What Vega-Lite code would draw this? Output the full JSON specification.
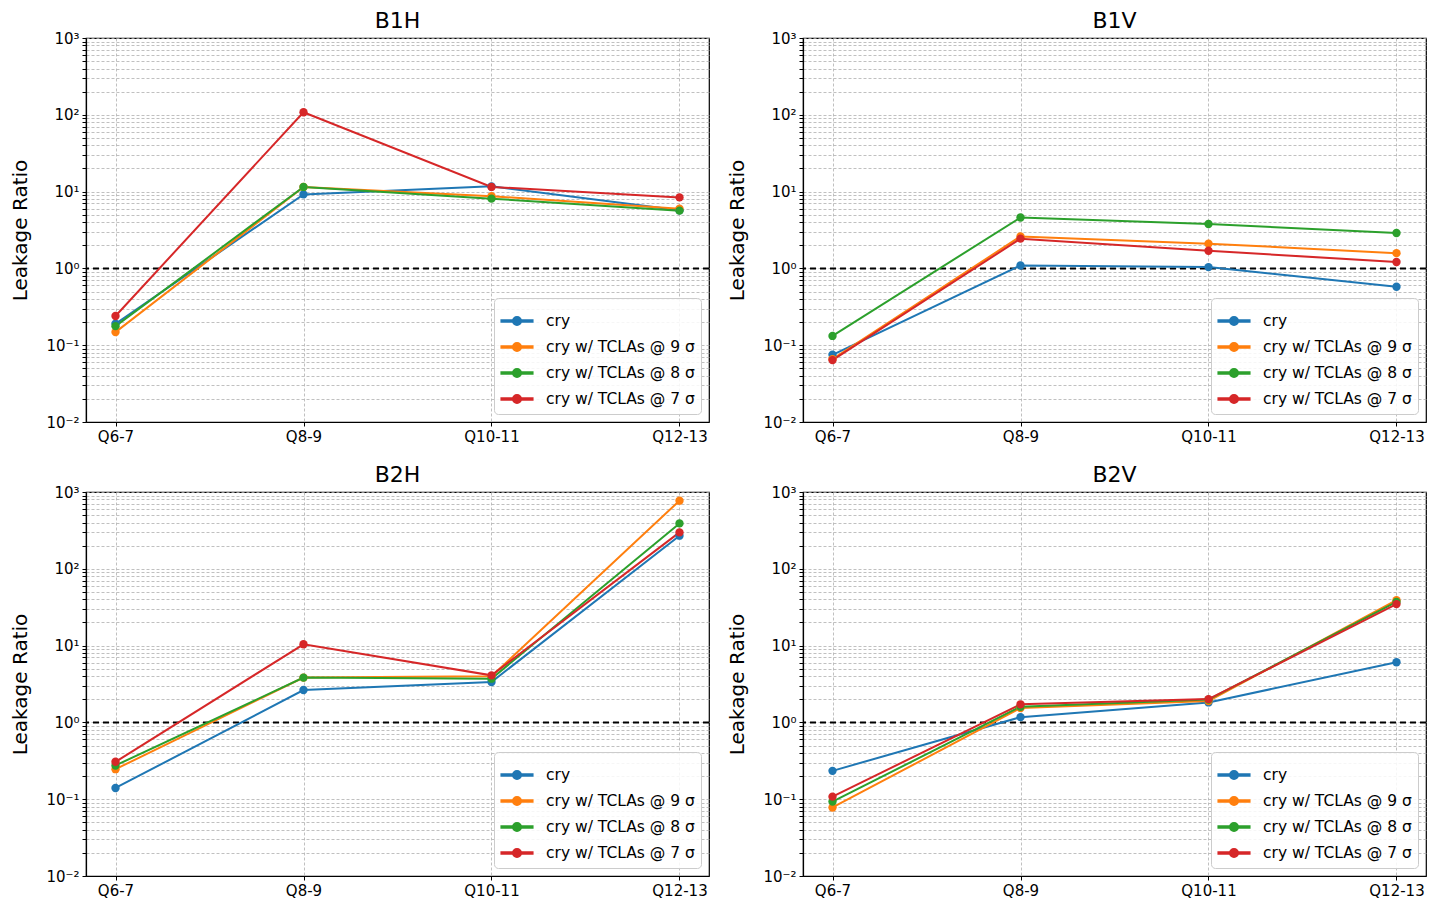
{
  "$schema": "https://vega.github.io/schema/vega-lite/v6.json",
  "background": "white",
  "padding": {"left": 10, "top": 9, "right": 2, "bottom": 2},
  "datasets": {
    "rows": [
      {"panel": "B1H", "q": "Q6-7", "series": "cry", "value": 0.19},
      {"panel": "B1H", "q": "Q8-9", "series": "cry", "value": 9.2},
      {"panel": "B1H", "q": "Q10-11", "series": "cry", "value": 11.7},
      {"panel": "B1H", "q": "Q12-13", "series": "cry", "value": 5.7},
      {"panel": "B1H", "q": "Q6-7", "series": "cry w/ TCLAs @ 9 σ", "value": 0.148},
      {"panel": "B1H", "q": "Q8-9", "series": "cry w/ TCLAs @ 9 σ", "value": 11.5},
      {"panel": "B1H", "q": "Q10-11", "series": "cry w/ TCLAs @ 9 σ", "value": 8.7},
      {"panel": "B1H", "q": "Q12-13", "series": "cry w/ TCLAs @ 9 σ", "value": 6.0},
      {"panel": "B1H", "q": "Q6-7", "series": "cry w/ TCLAs @ 8 σ", "value": 0.177},
      {"panel": "B1H", "q": "Q8-9", "series": "cry w/ TCLAs @ 8 σ", "value": 11.5},
      {"panel": "B1H", "q": "Q10-11", "series": "cry w/ TCLAs @ 8 σ", "value": 8.1},
      {"panel": "B1H", "q": "Q12-13", "series": "cry w/ TCLAs @ 8 σ", "value": 5.65},
      {"panel": "B1H", "q": "Q6-7", "series": "cry w/ TCLAs @ 7 σ", "value": 0.24},
      {"panel": "B1H", "q": "Q8-9", "series": "cry w/ TCLAs @ 7 σ", "value": 108},
      {"panel": "B1H", "q": "Q10-11", "series": "cry w/ TCLAs @ 7 σ", "value": 11.5},
      {"panel": "B1H", "q": "Q12-13", "series": "cry w/ TCLAs @ 7 σ", "value": 8.4},

      {"panel": "B1V", "q": "Q6-7", "series": "cry", "value": 0.075},
      {"panel": "B1V", "q": "Q8-9", "series": "cry", "value": 1.09},
      {"panel": "B1V", "q": "Q10-11", "series": "cry", "value": 1.04},
      {"panel": "B1V", "q": "Q12-13", "series": "cry", "value": 0.577},
      {"panel": "B1V", "q": "Q6-7", "series": "cry w/ TCLAs @ 9 σ", "value": 0.066},
      {"panel": "B1V", "q": "Q8-9", "series": "cry w/ TCLAs @ 9 σ", "value": 2.61},
      {"panel": "B1V", "q": "Q10-11", "series": "cry w/ TCLAs @ 9 σ", "value": 2.1},
      {"panel": "B1V", "q": "Q12-13", "series": "cry w/ TCLAs @ 9 σ", "value": 1.58},
      {"panel": "B1V", "q": "Q6-7", "series": "cry w/ TCLAs @ 8 σ", "value": 0.132},
      {"panel": "B1V", "q": "Q8-9", "series": "cry w/ TCLAs @ 8 σ", "value": 4.6},
      {"panel": "B1V", "q": "Q10-11", "series": "cry w/ TCLAs @ 8 σ", "value": 3.79},
      {"panel": "B1V", "q": "Q12-13", "series": "cry w/ TCLAs @ 8 σ", "value": 2.89},
      {"panel": "B1V", "q": "Q6-7", "series": "cry w/ TCLAs @ 7 σ", "value": 0.064},
      {"panel": "B1V", "q": "Q8-9", "series": "cry w/ TCLAs @ 7 σ", "value": 2.44},
      {"panel": "B1V", "q": "Q10-11", "series": "cry w/ TCLAs @ 7 σ", "value": 1.7},
      {"panel": "B1V", "q": "Q12-13", "series": "cry w/ TCLAs @ 7 σ", "value": 1.21},

      {"panel": "B2H", "q": "Q6-7", "series": "cry", "value": 0.14},
      {"panel": "B2H", "q": "Q8-9", "series": "cry", "value": 2.64},
      {"panel": "B2H", "q": "Q10-11", "series": "cry", "value": 3.36},
      {"panel": "B2H", "q": "Q12-13", "series": "cry", "value": 270},
      {"panel": "B2H", "q": "Q6-7", "series": "cry w/ TCLAs @ 9 σ", "value": 0.246},
      {"panel": "B2H", "q": "Q8-9", "series": "cry w/ TCLAs @ 9 σ", "value": 3.83},
      {"panel": "B2H", "q": "Q10-11", "series": "cry w/ TCLAs @ 9 σ", "value": 3.98},
      {"panel": "B2H", "q": "Q12-13", "series": "cry w/ TCLAs @ 9 σ", "value": 771},
      {"panel": "B2H", "q": "Q6-7", "series": "cry w/ TCLAs @ 8 σ", "value": 0.275},
      {"panel": "B2H", "q": "Q8-9", "series": "cry w/ TCLAs @ 8 σ", "value": 3.83},
      {"panel": "B2H", "q": "Q10-11", "series": "cry w/ TCLAs @ 8 σ", "value": 3.71},
      {"panel": "B2H", "q": "Q12-13", "series": "cry w/ TCLAs @ 8 σ", "value": 390},
      {"panel": "B2H", "q": "Q6-7", "series": "cry w/ TCLAs @ 7 σ", "value": 0.307},
      {"panel": "B2H", "q": "Q8-9", "series": "cry w/ TCLAs @ 7 σ", "value": 10.4},
      {"panel": "B2H", "q": "Q10-11", "series": "cry w/ TCLAs @ 7 σ", "value": 4.1},
      {"panel": "B2H", "q": "Q12-13", "series": "cry w/ TCLAs @ 7 σ", "value": 298},

      {"panel": "B2V", "q": "Q6-7", "series": "cry", "value": 0.234},
      {"panel": "B2V", "q": "Q8-9", "series": "cry", "value": 1.17},
      {"panel": "B2V", "q": "Q10-11", "series": "cry", "value": 1.82},
      {"panel": "B2V", "q": "Q12-13", "series": "cry", "value": 6.06},
      {"panel": "B2V", "q": "Q6-7", "series": "cry w/ TCLAs @ 9 σ", "value": 0.078},
      {"panel": "B2V", "q": "Q8-9", "series": "cry w/ TCLAs @ 9 σ", "value": 1.54},
      {"panel": "B2V", "q": "Q10-11", "series": "cry w/ TCLAs @ 9 σ", "value": 1.9},
      {"panel": "B2V", "q": "Q12-13", "series": "cry w/ TCLAs @ 9 σ", "value": 39},
      {"panel": "B2V", "q": "Q6-7", "series": "cry w/ TCLAs @ 8 σ", "value": 0.093},
      {"panel": "B2V", "q": "Q8-9", "series": "cry w/ TCLAs @ 8 σ", "value": 1.6},
      {"panel": "B2V", "q": "Q10-11", "series": "cry w/ TCLAs @ 8 σ", "value": 1.98},
      {"panel": "B2V", "q": "Q12-13", "series": "cry w/ TCLAs @ 8 σ", "value": 37},
      {"panel": "B2V", "q": "Q6-7", "series": "cry w/ TCLAs @ 7 σ", "value": 0.108},
      {"panel": "B2V", "q": "Q8-9", "series": "cry w/ TCLAs @ 7 σ", "value": 1.72},
      {"panel": "B2V", "q": "Q10-11", "series": "cry w/ TCLAs @ 7 σ", "value": 2.01},
      {"panel": "B2V", "q": "Q12-13", "series": "cry w/ TCLAs @ 7 σ", "value": 34.7}
    ],
    "one": [{"level": 1}]
  },
  "columns": 2,
  "spacing": {"column": 16, "row": 18},
  "resolve": {"scale": {"color": "independent", "x": "independent", "y": "independent"}, "legend": {"color": "independent"}},
  "concat": [
    {
      "title": "B1H",
      "width": 623, "height": 384,
      "layer": [
        {"data": {"name": "one"}, "mark": {"type": "rule", "color": "black", "strokeDash": [6, 4], "strokeWidth": 2},
         "encoding": {"y": {"field": "level", "type": "quantitative", "title": "Leakage Ratio"}}},
        {"data": {"name": "rows"}, "transform": [{"filter": "datum.panel === 'B1H'"}],
         "mark": {"type": "line", "strokeWidth": 2, "point": {"filled": true, "size": 70, "opacity": 1}},
         "encoding": {
           "x": {"field": "q", "type": "ordinal", "title": null, "sort": ["Q6-7", "Q8-9", "Q10-11", "Q12-13"], "scale": {"type": "point", "padding": 0.157}, "axis": {"labelAngle": 0}},
           "y": {"field": "value", "type": "quantitative", "title": "Leakage Ratio", "scale": {"type": "log", "domain": [0.01, 1000], "nice": false},
                 "axis": {"tickCount": 20, "labelOverlap": false, "labelExpr": "abs(log(datum.value)/LN10 - round(log(datum.value)/LN10)) > 0.01 ? '' : round(log(datum.value)/LN10) == -2 ? '10⁻²' : round(log(datum.value)/LN10) == -1 ? '10⁻¹' : round(log(datum.value)/LN10) == 0 ? '10⁰' : round(log(datum.value)/LN10) == 1 ? '10¹' : round(log(datum.value)/LN10) == 2 ? '10²' : '10³'"}},
           "color": {"field": "series", "type": "nominal", "title": null, "scale": {"domain": ["cry", "cry w/ TCLAs @ 9 σ", "cry w/ TCLAs @ 8 σ", "cry w/ TCLAs @ 7 σ"], "range": ["#1f77b4", "#ff7f0e", "#2ca02c", "#d62728"]}}
         }}
      ]
    },
    {
      "title": "B1V",
      "width": 623, "height": 384,
      "layer": [
        {"data": {"name": "one"}, "mark": {"type": "rule", "color": "black", "strokeDash": [6, 4], "strokeWidth": 2},
         "encoding": {"y": {"field": "level", "type": "quantitative", "title": "Leakage Ratio"}}},
        {"data": {"name": "rows"}, "transform": [{"filter": "datum.panel === 'B1V'"}],
         "mark": {"type": "line", "strokeWidth": 2, "point": {"filled": true, "size": 70, "opacity": 1}},
         "encoding": {
           "x": {"field": "q", "type": "ordinal", "title": null, "sort": ["Q6-7", "Q8-9", "Q10-11", "Q12-13"], "scale": {"type": "point", "padding": 0.157}, "axis": {"labelAngle": 0}},
           "y": {"field": "value", "type": "quantitative", "title": "Leakage Ratio", "scale": {"type": "log", "domain": [0.01, 1000], "nice": false},
                 "axis": {"tickCount": 20, "labelOverlap": false, "labelExpr": "abs(log(datum.value)/LN10 - round(log(datum.value)/LN10)) > 0.01 ? '' : round(log(datum.value)/LN10) == -2 ? '10⁻²' : round(log(datum.value)/LN10) == -1 ? '10⁻¹' : round(log(datum.value)/LN10) == 0 ? '10⁰' : round(log(datum.value)/LN10) == 1 ? '10¹' : round(log(datum.value)/LN10) == 2 ? '10²' : '10³'"}},
           "color": {"field": "series", "type": "nominal", "title": null, "scale": {"domain": ["cry", "cry w/ TCLAs @ 9 σ", "cry w/ TCLAs @ 8 σ", "cry w/ TCLAs @ 7 σ"], "range": ["#1f77b4", "#ff7f0e", "#2ca02c", "#d62728"]}}
         }}
      ]
    },
    {
      "title": "B2H",
      "width": 623, "height": 384,
      "layer": [
        {"data": {"name": "one"}, "mark": {"type": "rule", "color": "black", "strokeDash": [6, 4], "strokeWidth": 2},
         "encoding": {"y": {"field": "level", "type": "quantitative", "title": "Leakage Ratio"}}},
        {"data": {"name": "rows"}, "transform": [{"filter": "datum.panel === 'B2H'"}],
         "mark": {"type": "line", "strokeWidth": 2, "point": {"filled": true, "size": 70, "opacity": 1}},
         "encoding": {
           "x": {"field": "q", "type": "ordinal", "title": null, "sort": ["Q6-7", "Q8-9", "Q10-11", "Q12-13"], "scale": {"type": "point", "padding": 0.157}, "axis": {"labelAngle": 0}},
           "y": {"field": "value", "type": "quantitative", "title": "Leakage Ratio", "scale": {"type": "log", "domain": [0.01, 1000], "nice": false},
                 "axis": {"tickCount": 20, "labelOverlap": false, "labelExpr": "abs(log(datum.value)/LN10 - round(log(datum.value)/LN10)) > 0.01 ? '' : round(log(datum.value)/LN10) == -2 ? '10⁻²' : round(log(datum.value)/LN10) == -1 ? '10⁻¹' : round(log(datum.value)/LN10) == 0 ? '10⁰' : round(log(datum.value)/LN10) == 1 ? '10¹' : round(log(datum.value)/LN10) == 2 ? '10²' : '10³'"}},
           "color": {"field": "series", "type": "nominal", "title": null, "scale": {"domain": ["cry", "cry w/ TCLAs @ 9 σ", "cry w/ TCLAs @ 8 σ", "cry w/ TCLAs @ 7 σ"], "range": ["#1f77b4", "#ff7f0e", "#2ca02c", "#d62728"]}}
         }}
      ]
    },
    {
      "title": "B2V",
      "width": 623, "height": 384,
      "layer": [
        {"data": {"name": "one"}, "mark": {"type": "rule", "color": "black", "strokeDash": [6, 4], "strokeWidth": 2},
         "encoding": {"y": {"field": "level", "type": "quantitative", "title": "Leakage Ratio"}}},
        {"data": {"name": "rows"}, "transform": [{"filter": "datum.panel === 'B2V'"}],
         "mark": {"type": "line", "strokeWidth": 2, "point": {"filled": true, "size": 70, "opacity": 1}},
         "encoding": {
           "x": {"field": "q", "type": "ordinal", "title": null, "sort": ["Q6-7", "Q8-9", "Q10-11", "Q12-13"], "scale": {"type": "point", "padding": 0.157}, "axis": {"labelAngle": 0}},
           "y": {"field": "value", "type": "quantitative", "title": "Leakage Ratio", "scale": {"type": "log", "domain": [0.01, 1000], "nice": false},
                 "axis": {"tickCount": 20, "labelOverlap": false, "labelExpr": "abs(log(datum.value)/LN10 - round(log(datum.value)/LN10)) > 0.01 ? '' : round(log(datum.value)/LN10) == -2 ? '10⁻²' : round(log(datum.value)/LN10) == -1 ? '10⁻¹' : round(log(datum.value)/LN10) == 0 ? '10⁰' : round(log(datum.value)/LN10) == 1 ? '10¹' : round(log(datum.value)/LN10) == 2 ? '10²' : '10³'"}},
           "color": {"field": "series", "type": "nominal", "title": null, "scale": {"domain": ["cry", "cry w/ TCLAs @ 9 σ", "cry w/ TCLAs @ 8 σ", "cry w/ TCLAs @ 7 σ"], "range": ["#1f77b4", "#ff7f0e", "#2ca02c", "#d62728"]}}
         }}
      ]
    }
  ],
  "config": {
    "font": "DejaVu Sans",
    "view": {"stroke": "black", "strokeWidth": 1.2},
    "axis": {"grid": true, "gridDash": [3, 2], "gridColor": "#b0b0b0", "gridWidth": 0.8, "gridOpacity": 1, "domainColor": "black", "domainWidth": 1.2, "tickColor": "black", "tickSize": 4, "labelPadding": 3, "labelColor": "black", "titleColor": "black", "labelFontSize": 15, "titleFontSize": 20, "titleFontWeight": "normal", "titlePadding": 15},
    "title": {"fontSize": 22, "fontWeight": "normal", "color": "black", "offset": -2},
    "legend": {"orient": "bottom-right", "offset": 8, "labelFontSize": 15.5, "labelColor": "black", "symbolType": "M-1,-0.065H1V0.065H-1Z M0.27,0A0.27,0.27 0 1,1 -0.27,0A0.27,0.27 0 1,1 0.27,0Z", "symbolSize": 1000, "rowPadding": 0, "padding": 6, "fillColor": "rgba(255,255,255,0.85)", "strokeColor": "#cccccc", "cornerRadius": 4, "labelOffset": 12}
  }
}
